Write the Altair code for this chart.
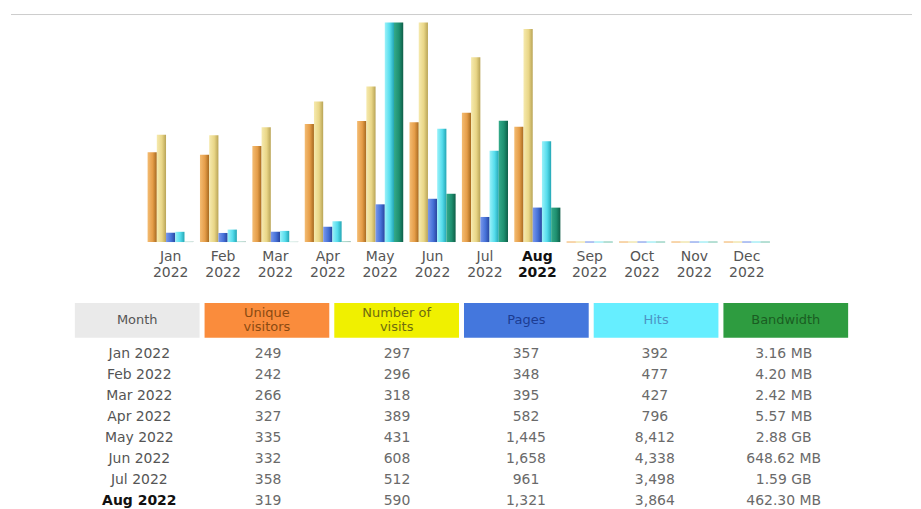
import altair as alt
import pandas as pd

# ---------------- data ----------------
months = ["Jan 2022", "Feb 2022", "Mar 2022", "Apr 2022", "May 2022", "Jun 2022",
          "Jul 2022", "Aug 2022", "Sep 2022", "Oct 2022", "Nov 2022", "Dec 2022"]
unique_visitors = [249, 242, 266, 327, 335, 332, 358, 319, 0, 0, 0, 0]
visits = [297, 296, 318, 389, 431, 608, 512, 590, 0, 0, 0, 0]
pages = [357, 348, 395, 582, 1445, 1658, 961, 1321, 0, 0, 0, 0]
hits = [392, 477, 427, 796, 8412, 4338, 3498, 3864, 0, 0, 0, 0]
bandwidth_mb = [3.16, 4.20, 2.42, 5.57, 2949.12, 648.62, 1628.16, 462.30, 0, 0, 0, 0]
bandwidth_labels = ["3.16 MB", "4.20 MB", "2.42 MB", "5.57 MB", "2.88 GB",
                    "648.62 MB", "1.59 GB", "462.30 MB"]
table_months = months[:8]
current_month = "Aug 2022"

series = ["Unique visitors", "Number of visits", "Pages", "Hits", "Bandwidth"]
table_columns = ["Month"] + series
header_labels = ["Month", "Unique\nvisitors", "Number of\nvisits", "Pages", "Hits", "Bandwidth"]

FONT = "DejaVu Sans"

# ---------------- bar chart ----------------
x_enc = alt.X(
    "month:N", sort=months,
    scale=alt.Scale(domain=months, range=[69.75, 699.75], paddingInner=0.12, paddingOuter=0.06),
    axis=alt.Axis(
        title=None, domain=False, ticks=False, labelAngle=0, labelOverlap=False,
        labelExpr="split(datum.value, ' ')",
        labelFont=FONT, labelFontSize=14, labelLineHeight=16, labelPadding=8,
        labelBaseline="top",
        labelColor={"condition": {"test": f"datum.value == '{current_month}'", "value": "#111111"},
                    "value": "#555555"},
        labelFontWeight={"condition": {"test": f"datum.value == '{current_month}'", "value": "bold"},
                         "value": "normal"},
    ),
)


def gradient(stops):
    return {
        "gradient": "linear", "x1": 0, "y1": 0, "x2": 1, "y2": 0,
        "stops": [{"offset": o, "color": c} for o, c in stops],
    }


def bar_layer(name, values, domain_max, stops, zero_color):
    df = pd.DataFrame({"month": months, "series": name, "value": values})
    return alt.Chart(df).mark_bar(strokeWidth=1).encode(
        x=x_enc,
        xOffset=alt.XOffset("series:N", scale=alt.Scale(domain=series, paddingInner=0, paddingOuter=0)),
        y=alt.Y("value:Q", scale=alt.Scale(domain=[0, domain_max], nice=False, zero=True), axis=None),
        color=alt.value(gradient(stops)),
        stroke=alt.condition("datum.value == 0", alt.value(zero_color), alt.value("transparent")),
    )


vmax = max(max(unique_visitors), max(visits))
hmax = max(max(pages), max(hits))
bmax = max(bandwidth_mb)

layers = [
    bar_layer("Unique visitors", unique_visitors, vmax,
              [(0, "#F4BC72"), (0.55, "#E59D48"), (1, "#A5681E")], "#F5C890"),
    bar_layer("Number of visits", visits, vmax,
              [(0, "#F6EAAE"), (0.55, "#E9D687"), (1, "#B9A456")], "#F2E6B0"),
    bar_layer("Pages", pages, hmax,
              [(0, "#7A98EC"), (0.55, "#4672D8"), (1, "#27449E")], "#9AB0EE"),
    bar_layer("Hits", hits, hmax,
              [(0, "#9AF2FA"), (0.55, "#55DCEC"), (1, "#23A6B4")], "#A8EEF6"),
    bar_layer("Bandwidth", bandwidth_mb, bmax,
              [(0, "#34AA8A"), (0.55, "#1E9070"), (1, "#0F5E48")], "#9ED6C6"),
]

top_rule = alt.Chart(pd.DataFrame({"r": [0]})).mark_rule(color="#cccccc", strokeWidth=1).encode(
    x=alt.value(-64), x2=alt.value(839), y=alt.value(-8)
)

bars = alt.layer(top_rule, *layers).resolve_scale(y="independent").properties(width=775, height=220)

# ---------------- table ----------------
header_fill = ["#EAEAEA", "#FA8C3C", "#F0F000", "#4477DD", "#66EEFF", "#2E9C40"]
header_text_color = ["#555555", "#8A4A12", "#6E6C10", "#1C3C92", "#4C94C4", "#1A5C22"]

col_x = alt.X("column:N", sort=table_columns,
              scale=alt.Scale(domain=table_columns, paddingInner=0.0385, paddingOuter=0),
              axis=None)

hdf = pd.DataFrame({"column": table_columns, "label": header_labels,
                    "lines": [lbl.count("\n") + 1 for lbl in header_labels]})
header_rect = alt.Chart(hdf).mark_rect().encode(
    x=col_x,
    color=alt.Color("column:N", scale=alt.Scale(domain=table_columns, range=header_fill), legend=None),
)
header_color = alt.Color("column:N", scale=alt.Scale(domain=table_columns, range=header_text_color),
                         legend=None)
header_text1 = alt.Chart(hdf).transform_filter("datum.lines == 1").mark_text(
    font=FONT, fontSize=13).encode(x=col_x, text="label:N", color=header_color)
header_text2 = alt.Chart(hdf).transform_filter("datum.lines == 2").mark_text(
    font=FONT, fontSize=13, lineBreak="\n", lineHeight=14, dy=-7).encode(
    x=col_x, text="label:N", color=header_color)
header = alt.layer(header_rect, header_text1, header_text2).resolve_scale(
    color="independent").properties(width=775, height=35)

rows = []
for i, m in enumerate(table_months):
    cells = [m, f"{unique_visitors[i]:,}", f"{visits[i]:,}", f"{pages[i]:,}", f"{hits[i]:,}", bandwidth_labels[i]]
    for c, t in zip(table_columns, cells):
        rows.append({"month": m, "column": c, "text": t})
bdf = pd.DataFrame(rows)

row_y = alt.Y("month:N", sort=table_months,
              scale=alt.Scale(domain=table_months, paddingInner=0, paddingOuter=0), axis=None)

body_text = alt.Chart(bdf).mark_text(font=FONT, fontSize=14).transform_filter(
    f"!(datum.month == '{current_month}' && datum.column == 'Month')"
).encode(
    x=col_x, y=row_y, text="text:N",
    color=alt.Color("column:N",
                    scale=alt.Scale(domain=table_columns,
                                    range=["#555555", "#6a6a6a", "#6a6a6a", "#6a6a6a", "#6a6a6a", "#6a6a6a"]),
                    legend=None),
)
body_bold = alt.Chart(bdf).mark_text(font=FONT, fontSize=14, fontWeight="bold", color="#111111").transform_filter(
    f"datum.month == '{current_month}' && datum.column == 'Month'"
).encode(x=col_x, y=row_y, text="text:N")

body = alt.layer(body_text, body_bold).properties(width=775, height=168)

table = alt.vconcat(header, body, spacing=6, bounds="flush")

chart = alt.vconcat(bars, table, spacing=61, bounds="flush").properties(
    padding={"left": 2, "top": 5, "right": 0, "bottom": 0},
    background="white",
).configure_view(stroke="transparent")

chart.save("out.html", embed_options={"renderer": "svg", "actions": False})
